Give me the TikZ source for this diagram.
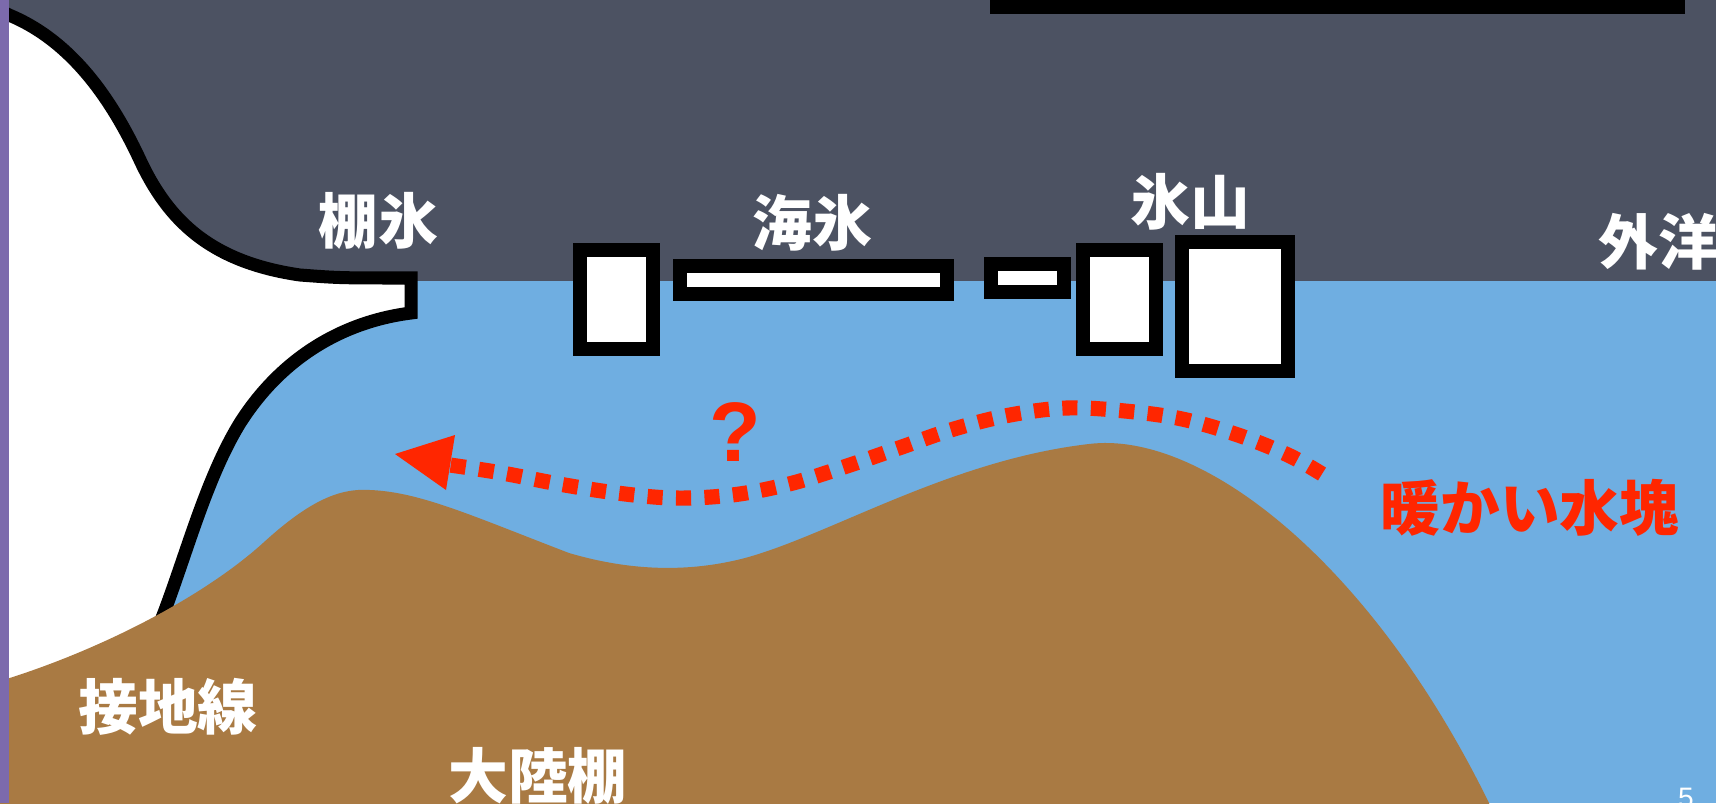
\documentclass[tikz,border=0pt]{standalone}
\usepackage{fontspec}
\newfontfamily\jpfont{Noto Sans CJK JP}
\newfontfamily\latinfont{Liberation Sans}
\usepackage{tikz}
\definecolor{slate}{RGB}{76,82,98}
\definecolor{sea}{RGB}{111,174,225}
\definecolor{bedrock}{RGB}{169,122,67}
\definecolor{warm}{RGB}{255,38,0}
\definecolor{slidepurple}{RGB}{124,106,172}
\tikzset{
    px/.style={x=0.01cm, y=-0.01cm},
    tag/.style={text=white, inner sep=0pt, font=\jpfont\bfseries\fontsize{17pt}{17pt}\selectfont},
    warmtag/.style={tag, text=warm},
    iceblock/.style={draw=black, fill=white, line width=4pt},
    shelfline/.style={draw=black, fill=white, line width=3.7pt, line join=miter},
    flow/.style={warm, line width=4.3pt, dash pattern=on 4.3pt off 3.8pt},
}

\begin{document}
\begin{tikzpicture}[px]
    \useasboundingbox (0,0) rectangle (1716,803);
    \clip (0,0) rectangle (1716,803);
    \fill[slate] (0,0) rectangle (1716,803);
    \fill[sea] (9,281) rectangle (1716,803);
    \fill[black] (990,0) rectangle (1685,14);
    % ice shelf: upper surface, front, base down to the bed
    \path[shelfline] (-10,5) -- (9,15) .. controls (72,41) and (112,100) .. (140,160)
        .. controls (168,220) and (210,262) .. (300,275)
        .. controls (340,278) .. (411,278) -- (411,313)
        .. controls (340,322) and (280,360) .. (240,423)
        .. controls (205,480) and (185,560) .. (160,623)
        -- (150,720) -- (-10,720) -- cycle;
    % continental shelf
    \fill[bedrock] (-10,684) .. controls (90,655) and (200,600) .. (263,543)
        .. controls (310,500) and (340,488) .. (370,490)
        .. controls (420,492) and (470,515) .. (569,553)
        .. controls (620,568) and (680,575) .. (745,558)
        .. controls (830,535) and (950,460) .. (1089,444)
        .. controls (1200,430) and (1370,560) .. (1489,803)
        -- (1500,830) -- (-10,830) -- cycle;
    \fill[slidepurple] (0,0) rectangle (9,803);
    \foreach \a/\b/\c/\d in {580/250/653/349, 680/266/947/294, 991/264/1064/292, 1083/250/1156/349, 1182/242/1288/371}
        \draw[iceblock] (\a,\b) rectangle (\c,\d);
    % warm water intrusion
    \draw[flow] plot[smooth, tension=0.6] coordinates {(1322,474) (1288,455) (1238,435) (1182,419) (1125,411) (1067,408) (1010,415) (954,429) (899,448) (844,467) (789,484) (732,495) (674,498) (617,493) (559,484) (502,473) (450,465)};
    \fill[warm] (395,454) -- (455,435) -- (446,490) -- cycle;
    \node[tag] (shelf) at (378,221) {棚氷};
    \node[tag] (seaice) at (812,223) {海氷};
    \node[tag] (berg) at (1190,202) {氷山};
    \node[tag, anchor=west] (ocean) at (1598,242) {外洋};
    \node[warmtag] (warmwater) at (1530,508) {暖かい水塊};
    \node[tag] (gline) at (168,707) {接地線};
    \node[tag] (shelfsea) at (538,776) {大陸棚};
    \node[text=warm, inner sep=0pt, font=\latinfont\bfseries\fontsize{24pt}{24pt}\selectfont] (query) at (735,432) {?};
    \node[text=white, inner sep=0pt, anchor=north, font=\latinfont\fontsize{8pt}{8pt}\selectfont] (page) at (1686,787) {5};
\end{tikzpicture}
\end{document}
